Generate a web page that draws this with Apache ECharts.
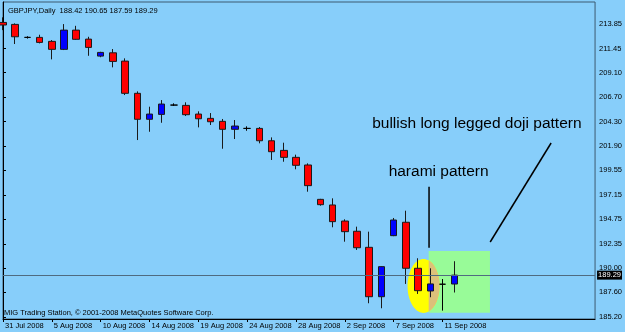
<!DOCTYPE html>
<html>
<head>
<meta charset="utf-8">
<script src="https://cdn.jsdelivr.net/npm/echarts@6/dist/echarts.min.js"></script>
<style>
html, body { margin: 0; padding: 0; background: #87cefa; }
#chart { width: 625px; height: 332px; }
</style>
</head>
<body>
<div id="chart"></div>
<script>
/**
 * 数据
 */
var symbolName = 'GBPJPY,Daily';
var footerText = 'MIG Trading Station, \u00a9 2001-2008 MetaQuotes Software Corp.';

// x轴标签，每4根K线一个
var dateLabels = ['31 Jul 2008', '5 Aug 2008', '10 Aug 2008', '14 Aug 2008', '19 Aug 2008',
  '24 Aug 2008', '28 Aug 2008', '2 Sep 2008', '7 Sep 2008', '11 Sep 2008'];
var labelStep = 4;

// y轴刻度
var priceTicks = [185.20, 187.60, 190.00, 192.35, 194.75, 197.15, 199.55, 201.90,
  204.30, 206.70, 209.10, 211.45, 213.85];

// K线 (开 高 低 收)
var opens  = [214.00, 213.81, 212.54, 212.54, 212.15, 211.37, 213.25, 212.37, 210.71, 211.03,
  210.22, 207.07, 204.53, 205.01, 205.92, 205.89, 205.04, 204.62, 204.33, 203.55,
  203.64, 203.64, 202.43, 201.49, 200.81, 200.06, 196.70, 196.15, 194.58, 193.58,
  192.01, 187.18, 193.15, 194.46, 189.96, 187.74, 188.40, 188.42];
var highs  = [214.50, 213.91, 212.65, 212.80, 212.28, 213.84, 213.67, 212.60, 211.13, 211.40,
  210.49, 207.26, 205.76, 206.41, 206.09, 206.19, 205.31, 205.14, 204.56, 204.46,
  203.84, 203.77, 202.76, 202.24, 201.07, 200.22, 196.75, 196.80, 194.75, 194.03,
  193.54, 190.15, 194.88, 195.59, 190.94, 189.96, 188.91, 190.65];
var lows   = [213.25, 211.89, 212.42, 211.95, 210.39, 211.30, 212.30, 210.74, 210.60, 209.61,
  206.90, 202.50, 203.31, 204.19, 205.83, 204.85, 203.74, 203.97, 201.65, 202.60,
  203.41, 202.18, 200.55, 200.38, 199.64, 197.45, 196.08, 193.97, 192.56, 191.75,
  186.54, 186.05, 193.10, 188.43, 187.45, 187.13, 185.82, 187.59];
var closes = [213.75, 212.60, 212.54, 212.05, 211.37, 213.25, 212.35, 211.56, 211.07, 210.19,
  207.07, 204.53, 205.04, 206.02, 205.92, 204.98, 204.58, 204.29, 203.55, 203.87,
  203.64, 202.43, 201.36, 200.81, 200.03, 198.04, 196.18, 194.52, 193.54, 191.97,
  187.18, 190.12, 194.68, 189.96, 187.77, 188.43, 188.40, 189.29];

// 标注（数据坐标）
var annoTexts = [
  { text: 'bullish long legged doji pattern', at: [30.24, 204.07] },
  { text: 'harami pattern', at: [31.59, 199.37] }
];
var annoLines = [
  [[34.90, 197.94], [34.90, 191.97]],
  [[39.91, 192.53], [44.90, 202.21]]
];
var annoBox = [[34.87, 191.65], [39.89, 185.62]];
var annoEllipse = { center: [34.45, 188.23], rx: 1.31, ry: 2.64 };

/**
 * 图表
 */
var bgColor = '#87cefa';
var upColor = '#0000ff';
var downColor = '#ff0000';
var edgeColor = '#1a1a1a';
var smallFont = { fontFamily: 'Liberation Sans', fontSize: 7.5, color: '#000' };

var candles = opens.map(function (o, i) {
  return [i, o, closes[i], lows[i], highs[i]];
});
var last = opens.length - 1;
var headerText = symbolName + '  ' + [opens[last], highs[last], lows[last], closes[last]]
  .map(function (v) { return v.toFixed(2); }).join(' ');
var tickIdx = dateLabels.map(function (d, i) { return i * labelStep; });

var chart = echarts.init(document.getElementById('chart'));

var option = {
  animation: false,
  backgroundColor: bgColor,
  title: {
    text: headerText, left: 3, top: 2,
    textStyle: { fontFamily: 'Liberation Sans', fontSize: 7.5, fontWeight: 'normal', color: '#000' }
  },
  grid: { left: 3, right: 29, top: 2, bottom: 13, show: true, borderColor: '#3d5a70', borderWidth: 1 },
  xAxis: {
    type: 'value', min: 0, max: 48.5,
    splitLine: { show: false },
    axisLine: { lineStyle: { color: '#000' } },
    axisTick: { customValues: tickIdx, length: 3, lineStyle: { color: '#000' } },
    axisLabel: Object.assign({
      customValues: tickIdx, align: 'left', margin: 3, padding: [0, 0, 0, 2],
      formatter: function (v) { return dateLabels[Math.round(v / labelStep)] || ''; }
    }, smallFont)
  },
  yAxis: {
    type: 'value', position: 'right', min: 185, max: 216, scale: true,
    splitLine: { show: false },
    axisLine: { show: true, lineStyle: { color: '#000' } },
    axisTick: { show: true, customValues: priceTicks, length: 3, lineStyle: { color: '#000' } },
    axisLabel: Object.assign({
      customValues: priceTicks, margin: 4,
      formatter: function (v) { return v.toFixed(2); }
    }, smallFont)
  },
  series: [{
    type: 'candlestick',
    data: candles,
    barWidth: 7,
    z: 5,
    itemStyle: {
      color: upColor, color0: downColor,
      borderColor: edgeColor, borderColor0: edgeColor, borderColorDoji: '#000',
      borderWidth: 1
    },
    markLine: {
      silent: true, symbol: ['none', 'none'], z: 6,
      lineStyle: { color: '#4f6b80', width: 1, type: 'solid' },
      label: {
        position: 'end', distance: 2, backgroundColor: '#000', color: '#fff',
        fontFamily: 'Liberation Sans', fontSize: 7.5, padding: [1, 1, 0, 1],
        formatter: function () { return closes[last].toFixed(2); }
      },
      data: [{ yAxis: closes[last] }]
    }
  }]
};
chart.setOption(option);

// 标注图形：按数据坐标换算成像素
function px(p) { return chart.convertToPixel({ xAxisIndex: 0, yAxisIndex: 0 }, p); }

var g = [];
var b0 = px(annoBox[0]), b1 = px(annoBox[1]);
g.push({ type: 'rect', z: 1, shape: { x: b0[0], y: b0[1], width: b1[0] - b0[0], height: b1[1] - b0[1] },
  style: { fill: '#98fb98' } });

var c = px(annoEllipse.center);
var ex = px([annoEllipse.center[0] + annoEllipse.rx, annoEllipse.center[1]]);
var ey = px([annoEllipse.center[0], annoEllipse.center[1] + annoEllipse.ry]);
var rx = ex[0] - c[0], ry = c[1] - ey[1];
var ellPts = [];
for (var k = 0; k < 72; k++) {
  var t = k / 72 * Math.PI * 2;
  ellPts.push([c[0] + rx * Math.cos(t), c[1] + ry * Math.sin(t)]);
}
g.push({ type: 'polygon', z: 2, shape: { points: ellPts }, style: { fill: '#ffff00' } });

// 椭圆与矩形重叠部分
var a = Math.acos(Math.max(-1, Math.min(1, (b0[0] - c[0]) / rx)));
var ovPts = [];
for (var j = 0; j <= 40; j++) {
  var tt = -a + 2 * a * j / 40;
  ovPts.push([c[0] + rx * Math.cos(tt), c[1] + ry * Math.sin(tt)]);
}
g.push({ type: 'polygon', z: 3, shape: { points: ovPts }, style: { fill: '#dcc07a' } });

annoLines.forEach(function (ln) {
  var p0 = px(ln[0]), p1 = px(ln[1]);
  g.push({ type: 'line', z: 10, shape: { x1: p0[0], y1: p0[1], x2: p1[0], y2: p1[1] },
    style: { stroke: '#000', lineWidth: 1.5 } });
});

annoTexts.forEach(function (tx) {
  var p = px(tx.at);
  g.push({ type: 'text', z: 10, x: p[0], y: p[1],
    style: { text: tx.text, fill: '#000', font: '15.5px "Liberation Sans", Arial, sans-serif',
      align: 'left', verticalAlign: 'middle' } });
});

g.push({ type: 'text', z: 10, x: 4, y: 313,
  style: { text: footerText, fill: '#000', font: '7.5px "Liberation Sans", sans-serif',
    align: 'left', verticalAlign: 'middle' } });

chart.setOption({ graphic: g });
</script>
</body>
</html>
